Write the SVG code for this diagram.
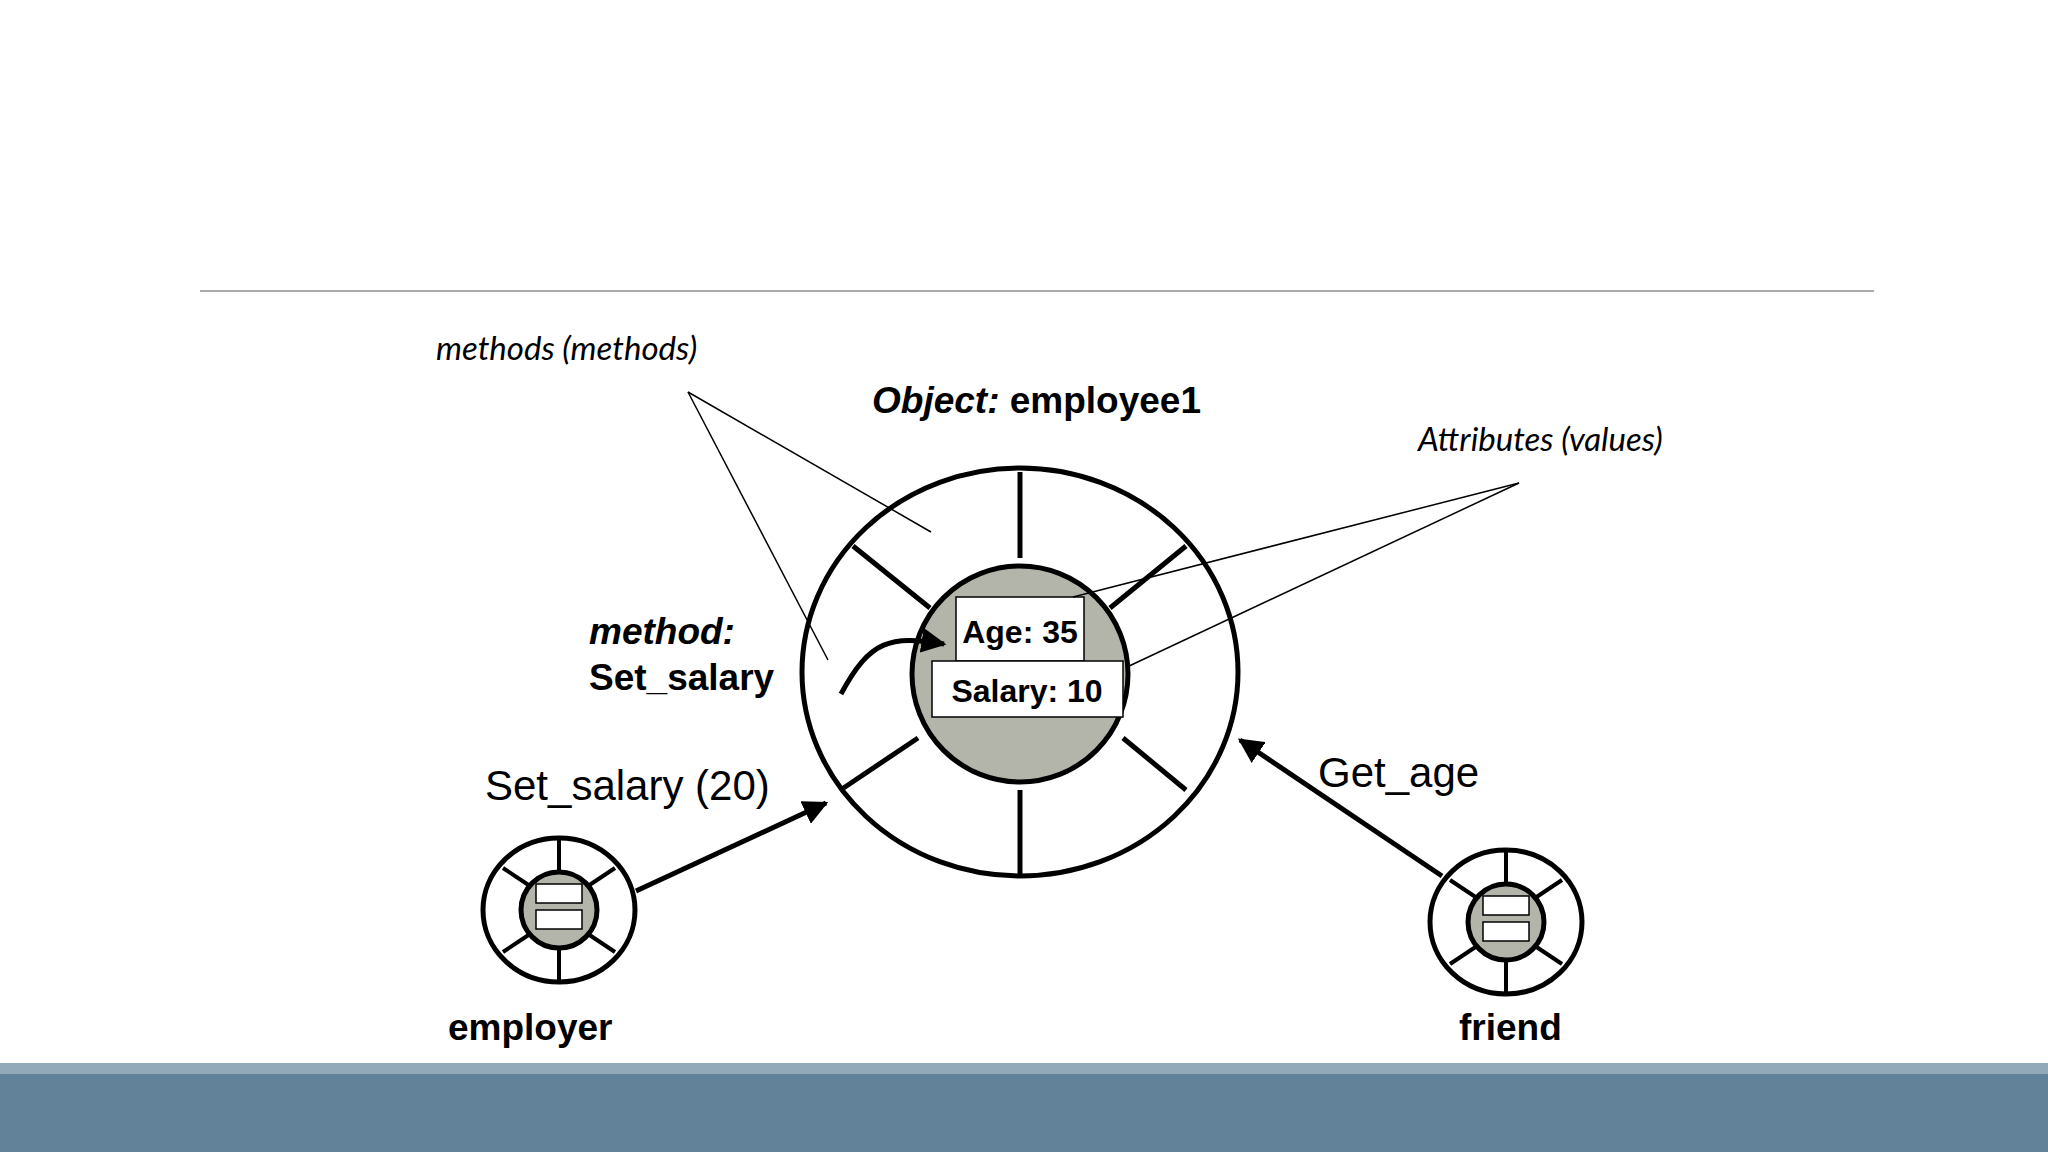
<svg xmlns="http://www.w3.org/2000/svg" width="2048" height="1152" viewBox="0 0 2048 1152">
<defs>
<style>
.b{fill:none;stroke:#000;stroke-width:5}
.t{fill:none;stroke:#000;stroke-width:1.5}
.sp{stroke:#000;stroke-width:5}
.ss{stroke:#000;stroke-width:4}
.lab{font-family:"Liberation Sans",Arial,sans-serif;fill:#000}
.it{font-family:Lato,"Open Sans",sans-serif;font-style:italic;font-size:33px;fill:#000}
</style>
<marker id="ah" viewBox="0 0 10 10" refX="9" refY="5" markerWidth="5" markerHeight="5" orient="auto"><path d="M0,0L10,5L0,10z" fill="#000"/></marker>
</defs>
<rect width="2048" height="1152" fill="#fff"/>
<line x1="200" y1="291" x2="1874" y2="291" stroke="#aaa" stroke-width="2"/>
<rect x="0" y="1063" width="2048" height="11" fill="#91a9b9"/>
<rect x="0" y="1074" width="2048" height="78" fill="#62829a"/>
<g id="employee1">
<ellipse cx="1020" cy="672" rx="218" ry="204" class="b"/>
<line x1="1020" y1="472" x2="1020" y2="558" class="sp"/>
<line x1="1020" y1="790" x2="1020" y2="876" class="sp"/>
<line x1="853" y1="546" x2="930" y2="608" class="sp"/>
<line x1="1186" y1="546" x2="1110" y2="608" class="sp"/>
<line x1="918" y1="738" x2="842" y2="789" class="sp"/>
<line x1="1123" y1="738" x2="1186" y2="790" class="sp"/>
<circle cx="1020" cy="674" r="108" fill="#b3b5aa" stroke="#000" stroke-width="5"/>
<rect x="956" y="597" width="128" height="64" fill="#fff" stroke="#000" stroke-width="1.5"/>
<text x="1020" y="643" class="lab" font-size="32" font-weight="bold" text-anchor="middle">Age: 35</text>
<rect x="932" y="661" width="191" height="56" fill="#fff" stroke="#000" stroke-width="1.5"/>
<text x="1027" y="702" class="lab" font-size="32" font-weight="bold" text-anchor="middle">Salary: 10</text>
<text x="872" y="413" class="lab" font-size="37" font-weight="bold"><tspan font-style="italic">Object:</tspan> employee1</text>
</g>
<g id="employer">
<ellipse cx="559" cy="910" rx="76" ry="72" class="b"/>
<line x1="559" y1="840" x2="559" y2="872" class="ss"/>
<line x1="559" y1="948" x2="559" y2="980" class="ss"/>
<line x1="503" y1="868" x2="530" y2="886" class="ss"/>
<line x1="615" y1="868" x2="588" y2="886" class="ss"/>
<line x1="503" y1="952" x2="530" y2="934" class="ss"/>
<line x1="615" y1="952" x2="588" y2="934" class="ss"/>
<circle cx="559" cy="910" r="38" fill="#b3b5aa" stroke="#000" stroke-width="5"/>
<rect x="536" y="884" width="46" height="19" fill="#fff" stroke="#000" stroke-width="1.5"/>
<rect x="536" y="910" width="46" height="19" fill="#fff" stroke="#000" stroke-width="1.5"/>
<text x="448" y="1040" class="lab" font-size="37" font-weight="bold">employer</text>
</g>
<g id="friend">
<ellipse cx="1506" cy="922" rx="76" ry="72" class="b"/>
<line x1="1506" y1="852" x2="1506" y2="884" class="ss"/>
<line x1="1506" y1="960" x2="1506" y2="992" class="ss"/>
<line x1="1450" y1="880" x2="1477" y2="898" class="ss"/>
<line x1="1562" y1="880" x2="1535" y2="898" class="ss"/>
<line x1="1450" y1="964" x2="1477" y2="946" class="ss"/>
<line x1="1562" y1="964" x2="1535" y2="946" class="ss"/>
<circle cx="1506" cy="922" r="38" fill="#b3b5aa" stroke="#000" stroke-width="5"/>
<rect x="1483" y="896" width="46" height="19" fill="#fff" stroke="#000" stroke-width="1.5"/>
<rect x="1483" y="922" width="46" height="19" fill="#fff" stroke="#000" stroke-width="1.5"/>
<text x="1459" y="1040" class="lab" font-size="37" font-weight="bold">friend</text>
</g>
<g id="labels">
<text x="436" y="360" class="it">methods (methods)</text>
<text x="1418" y="451" class="it">Attributes (values)</text>
<text x="589" y="644" class="lab" font-size="37" font-weight="bold" font-style="italic">method:</text>
<text x="589" y="690" class="lab" font-size="37" font-weight="bold">Set_salary</text>
<text x="485" y="800" class="lab" font-size="42">Set_salary (20)</text>
<text x="1318" y="787" class="lab" font-size="42">Get_age</text>
</g>
<g id="connectors">
<line x1="688" y1="392" x2="931" y2="532" class="t"/>
<line x1="688" y1="392" x2="828" y2="660" class="t"/>
<line x1="1519" y1="483" x2="1073" y2="597" class="t"/>
<line x1="1519" y1="483" x2="1127" y2="667" class="t"/>
<path d="M841,694 C870,640 890,635 944,644" class="b" stroke-width="4" marker-end="url(#ah)"/>
<line x1="636" y1="891" x2="826" y2="803" class="b" stroke-width="4" marker-end="url(#ah)"/>
<line x1="1442" y1="876" x2="1240" y2="740" class="b" stroke-width="4" marker-end="url(#ah)"/>
</g>
</svg>
